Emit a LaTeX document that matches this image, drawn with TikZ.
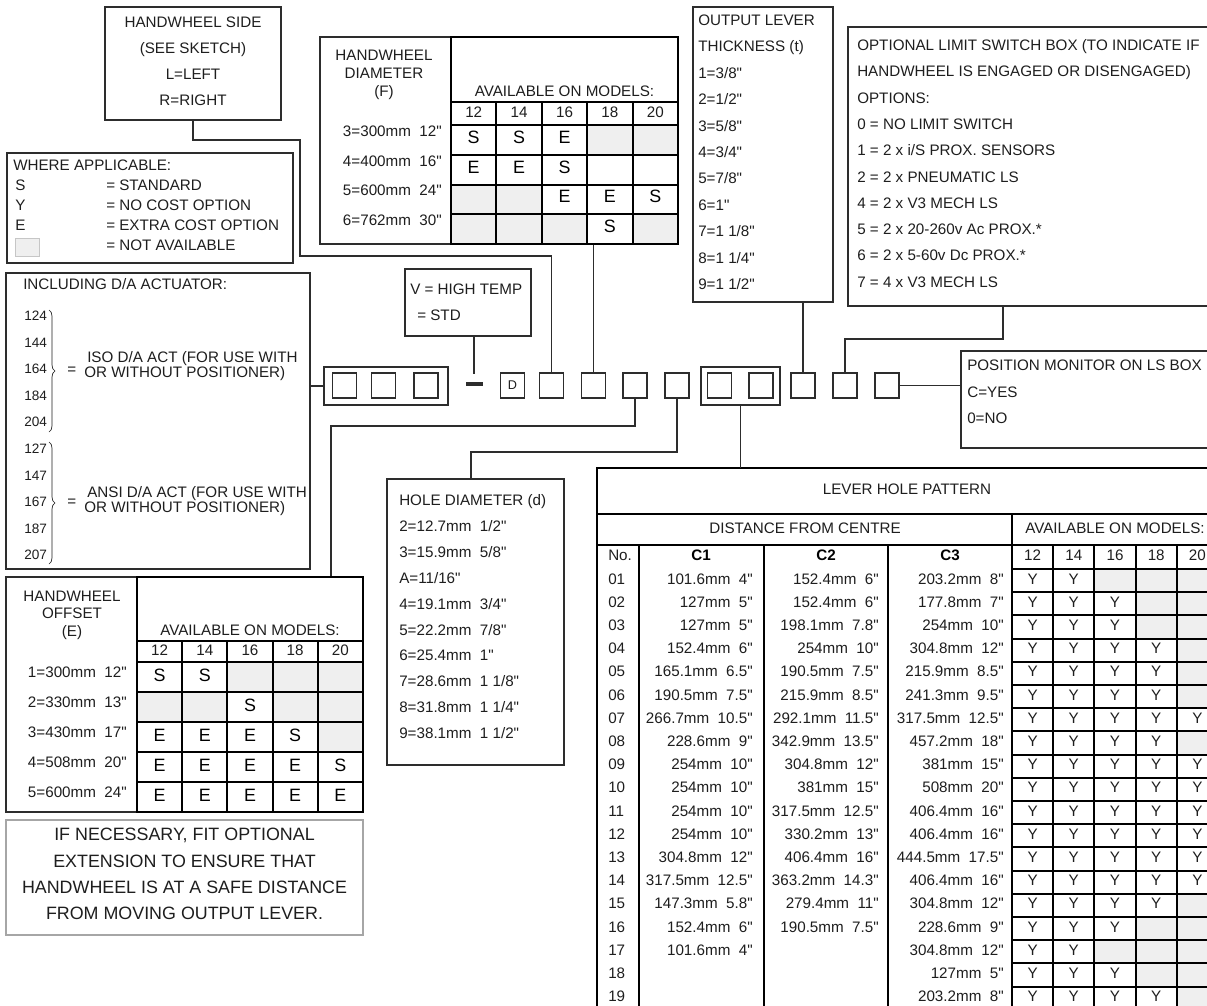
\documentclass[tikz,border=0pt]{standalone}
\usepackage{fontspec}
\setmainfont{Liberation Sans}[Ligatures=TeXOff]
\usetikzlibrary{fit, decorations.pathreplacing}

\definecolor{ink}{RGB}{30,30,30}
\definecolor{rule}{RGB}{45,45,45}
\definecolor{na}{RGB}{239,239,239}

\begin{document}
\begin{tikzpicture}[
    x=0.75pt, y=-0.75pt,
    box/.style={draw=rule, line width=1.1pt, inner sep=0pt},
    lbl/.style={anchor=mid west, inner sep=0pt, text=ink, font=\fontsize{11.4}{13}\selectfont},
    ctr/.style={lbl, anchor=mid},
    rgt/.style={lbl, anchor=mid east},
    num/.style={lbl, font=\fontsize{10.2}{12}\selectfont},
    big/.style={anchor=mid, inner sep=0pt, font=\fontsize{13.4}{15}\selectfont},
    note/.style={anchor=mid, inner sep=0pt, text=ink, font=\fontsize{13.4}{15}\selectfont},
    grid/.style={line width=1.5pt},
    wire/.style={draw=rule, line width=1.2pt},
    code/.style={draw=rule, line width=1.1pt, minimum width=18pt, minimum height=18.75pt, inner sep=0pt},
    brc/.style={decorate, decoration={brace, amplitude=4.5pt}, draw=ink, line width=0.5pt}
]
\useasboundingbox (0,0) rectangle (1207,1006);
\fill[white] (0,0) rectangle (1207,1006);
\clip (0,0) rectangle (1207,1006);

% ============================================================
% HANDWHEEL SIDE + legend (top left)
% ============================================================
\node[box, fit={(105,7) (281,120)}] (hwside) {};
\foreach \t [count=\i] in {HANDWHEEL SIDE, (SEE SKETCH), L=LEFT, R=RIGHT} {
    \node[ctr] (hs\i) at (193, -2+26*\i) {\t};
}

\node[box, fit={(7,153) (293,263)}] (where) {};
\node[lbl] (wa0) at (13,167) {WHERE APPLICABLE:};
\foreach \k/\t [count=\i] in {S/STANDARD, Y/NO COST OPTION, E/EXTRA COST OPTION} {
    \node[lbl] (wk\i) at (15, 167+20*\i) {\k};
    \node[lbl] (wt\i) at (106, 167+20*\i) {= \t};
}
\node[fill=na, draw=gray!45, line width=0.5pt, inner sep=0pt, fit={(15,238) (39,256)}] (wkey) {};
\node[lbl] (wt4) at (106,247) {= NOT AVAILABLE};

% ============================================================
% HANDWHEEL DIAMETER (F)
% ============================================================
\node[box, fit={(320,37) (678,244)}] (hwdia) {};
\foreach \t [count=\i] in {HANDWHEEL, DIAMETER, (F)} {
    \node[ctr] (hd\i) at (384, 39+18*\i) {\t};
}
\node[ctr] (hdav) at (564.5,93) {AVAILABLE ON MODELS:};
\foreach \m [count=\c] in {12,14,16,18,20} {
    \node[ctr] (hdm\c) at (428.3+45.4*\c, 114) {\m};
}
\foreach \t [count=\r] in {3=300mm~~12", 4=400mm~~16", 5=600mm~~24", 6=762mm~~30"} {
    \node[rgt] (hdr\r) at (442, 103+29.75*\r) {\t};
}
% not available
\foreach \r/\c in {1/4,1/5,3/1,3/2,4/1,4/2,4/3,4/5} {
    \fill[na] (405.6+45.4*\c, 95.25+29.75*\r) rectangle ++(45.4,29.75);
}
\foreach \r/\c/\t in {1/1/S,1/2/S,1/3/E,2/1/E,2/2/E,2/3/S,3/3/E,3/4/E,3/5/S,4/4/S} {
    \node[big] (hdc\r\c) at (428.3+45.4*\c, 110.1+29.75*\r) {\t};
}
\draw[grid] (451,37) -- (451,244) -- (678,244) -- (678,37) -- cycle;
\draw[grid] (451,102) -- (678,102);
\foreach \r in {0,...,3} { \draw[grid] (451,125+29.75*\r) -- (678,125+29.75*\r); }
\foreach \c in {1,...,4} { \draw[grid] (451+45.4*\c,102) -- (451+45.4*\c,244); }

% ============================================================
% OUTPUT LEVER + LIMIT SWITCH (top right)
% ============================================================
\node[box, fit={(693,7) (833,302)}] (outlev) {};
\foreach \t [count=\i] in {OUTPUT LEVER, THICKNESS (t), 1=3/8", 2=1/2", 3=5/8", 4=3/4",
                           5=7/8", 6=1", 7=1 1/8", 8=1 1/4", 9=1 1/2"} {
    \node[lbl] (ol\i) at (698, -4.4+26.4*\i) {\t};
}

\node[box, fit={(848,27) (1230,306)}] (lsbox) {};
\foreach \t [count=\i] in {OPTIONAL LIMIT SWITCH BOX (TO INDICATE IF,
                           HANDWHEEL IS ENGAGED OR DISENGAGED), OPTIONS:,
                           0 = NO LIMIT SWITCH, 1 = 2 x i/S PROX. SENSORS,
                           2 = 2 x PNEUMATIC LS, 4 = 2 x V3 MECH LS,
                           5 = 2 x 20-260v Ac PROX.*, 6 = 2 x 5-60v Dc PROX.*,
                           7 = 4 x V3 MECH LS} {
    \node[lbl] (ls\i) at (857, 20.7+26.3*\i) {\t};
}

% ============================================================
% ACTUATOR + code boxes (middle row)
% ============================================================
\node[box, fit={(6,273) (310,569)}] (incl) {};
\node[lbl] (inc0) at (23,286) {INCLUDING D/A ACTUATOR:};
\foreach \t [count=\i] in {124,144,164,184,204,127,147,167,187,207} {
    \node[num] (num\i) at (24, 290.4+26.6*\i) {\t};
}
\draw[brc] (49,310) -- (49,432);
\draw[brc] (49,442) -- (49,564);
\node[lbl] (eq1) at (67,371) {=};
\node[lbl] (eq2) at (67,503) {=};
\node[lbl] (iso1) at (87,359) {ISO D/A ACT (FOR USE WITH};
\node[lbl] (iso2) at (84,374) {OR WITHOUT POSITIONER)};
\node[lbl] (ansi1) at (87,494) {ANSI D/A ACT (FOR USE WITH};
\node[lbl] (ansi2) at (84,509) {OR WITHOUT POSITIONER)};

\node[box, fit={(405,269) (531,336)}] (vtemp) {};
\node[lbl] (vt1) at (410,291) {V = HIGH TEMP};
\node[lbl] (vt2) at (417,317) {= STD};

\node[box, fit={(324,367) (448,405)}] (tri) {};
\node[box, fit={(701,367) (780,405)}] (pair) {};
\foreach \n/\x in {a1/344.5, a2/383.5, a3/426, s1/551.5, s2/593.5, s3/635, s4/677,
                   p1/719.5, p2/761, s5/803, s6/845, s7/887} {
    \node[code] (\n) at (\x,385.5) {};
}
\node[code, text=ink, font=\fontsize{9.5}{11}\selectfont] (dbox) at (512.5,385.5) {D};
\node[fill=rule, minimum width=12.75pt, minimum height=3pt, inner sep=0pt] (dash) at (474.5,383.5) {};

\node[box, fit={(961,351) (1230,448)}] (posmon) {};
\foreach \t [count=\i] in {POSITION MONITOR ON LS BOX, C=YES, 0=NO} {
    \node[lbl] (pm\i) at (967, 340.7+26.5*\i) {\t};
}

% ============================================================
% HANDWHEEL OFFSET (E) + note (bottom left)
% ============================================================
\node[box, fit={(6,577) (363,812)}] (hwoff) {};
\foreach \t [count=\i] in {HANDWHEEL, OFFSET, (E)} {
    \node[ctr] (ho\i) at (72, 580+17.5*\i) {\t};
}
\node[ctr] (hoav) at (250,632) {AVAILABLE ON MODELS:};
\foreach \m [count=\c] in {12,14,16,18,20} {
    \node[ctr] (hom\c) at (114.4+45.2*\c, 652) {\m};
}
\foreach \t [count=\r] in {1=300mm~~12", 2=330mm~~13", 3=430mm~~17", 4=508mm~~20", 5=600mm~~24"} {
    \node[rgt] (hor\r) at (127, 644+30*\r) {\t};
}
\foreach \r/\c in {1/3,1/4,1/5,2/1,2/2,2/4,2/5,3/5} {
    \fill[na] (91.8+45.2*\c, 632+30*\r) rectangle ++(45.2,30);
}
\foreach \r/\c/\t in {1/1/S,1/2/S,2/3/S,3/1/E,3/2/E,3/3/E,3/4/S,4/1/E,4/2/E,4/3/E,4/4/E,4/5/S,
                      5/1/E,5/2/E,5/3/E,5/4/E,5/5/E} {
    \node[big] (hoc\r\c) at (114.4+45.2*\c, 648+30*\r) {\t};
}
\draw[grid] (137,577) -- (137,812) -- (363,812) -- (363,577) -- cycle;
\draw[grid] (137,641) -- (363,641);
\foreach \r in {0,...,4} { \draw[grid] (137,662+30*\r) -- (363,662+30*\r); }
\foreach \c in {1,...,4} { \draw[grid] (137+45.2*\c,641) -- (137+45.2*\c,812); }

\node[box, draw=gray!70, fit={(6,820) (363,935)}] (ifbox) {};
\foreach \t [count=\i] in {{IF NECESSARY, FIT OPTIONAL}, EXTENSION TO ENSURE THAT,
                           HANDWHEEL IS AT A SAFE DISTANCE, FROM MOVING OUTPUT LEVER.} {
    \node[note] (if\i) at (184.5, 811+26.3*\i) {\t};
}

% ============================================================
% HOLE DIAMETER (d)
% ============================================================
\node[box, fit={(387,479) (564,765)}] (hole) {};
\foreach \t [count=\i] in {HOLE DIAMETER (d), 2=12.7mm~~1/2", 3=15.9mm~~5/8", A=11/16",
                           4=19.1mm~~3/4", 5=22.2mm~~7/8", 6=25.4mm~~1", 7=28.6mm~~1 1/8",
                           8=31.8mm~~1 1/4", 9=38.1mm~~1 1/2"} {
    \node[lbl] (hl\i) at (399, 476.1+25.9*\i) {\t};
}

% ============================================================
% LEVER HOLE PATTERN (bottom right)
% ============================================================
\node[inner sep=0pt, fit={(597,468) (1218,1012)}] (lever) {};
\node[ctr] (lhp) at (907,491) {LEVER HOLE PATTERN};
\node[ctr] (dfc) at (805,530) {DISTANCE FROM CENTRE};
\node[ctr] (lav) at (1115,530) {AVAILABLE ON MODELS:};
\node[lbl] (lno) at (608,557) {No.};
\foreach \h/\x in {C1/701, C2/826, C3/950} {
    \node[ctr, text=black, font=\fontsize{11.4}{13}\selectfont\bfseries] (l\h) at (\x,557) {\h};
}
\foreach \m [count=\c] in {12,14,16,18,20} {
    \node[ctr] (lm\c) at (991.4+41.2*\c, 557) {\m};
}
\foreach \no/\ca/\cb/\cc [count=\r] in {
    01/101.6mm~~4"/152.4mm~~6"/203.2mm~~8",
    02/127mm~~5"/152.4mm~~6"/177.8mm~~7",
    03/127mm~~5"/198.1mm~~7.8"/254mm~~10",
    04/152.4mm~~6"/254mm~~10"/304.8mm~~12",
    05/165.1mm~~6.5"/190.5mm~~7.5"/215.9mm~~8.5",
    06/190.5mm~~7.5"/215.9mm~~8.5"/241.3mm~~9.5",
    07/266.7mm~~10.5"/292.1mm~~11.5"/317.5mm~~12.5",
    08/228.6mm~~9"/342.9mm~~13.5"/457.2mm~~18",
    09/254mm~~10"/304.8mm~~12"/381mm~~15",
    10/254mm~~10"/381mm~~15"/508mm~~20",
    11/254mm~~10"/317.5mm~~12.5"/406.4mm~~16",
    12/254mm~~10"/330.2mm~~13"/406.4mm~~16",
    13/304.8mm~~12"/406.4mm~~16"/444.5mm~~17.5",
    14/317.5mm~~12.5"/363.2mm~~14.3"/406.4mm~~16",
    15/147.3mm~~5.8"/279.4mm~~11"/304.8mm~~12",
    16/152.4mm~~6"/190.5mm~~7.5"/228.6mm~~9",
    17/101.6mm~~4"//304.8mm~~12",
    18///127mm~~5",
    19///203.2mm~~8"} {
    \node[lbl] (no\r) at (608, 557.4+23.2*\r) {\no};
    \node[rgt] (ca\r) at (753, 557.4+23.2*\r) {\ca};
    \node[rgt] (cb\r) at (879, 557.4+23.2*\r) {\cb};
    \node[rgt] (cc\r) at (1004, 557.4+23.2*\r) {\cc};
}
% Y up to the count, grey after it
\foreach \cnt [count=\r] in {2,3,3,4,4,4,5,4,5,5,5,5,5,5,4,3,2,3,4} {
    \foreach \c in {1,...,5} {
        \ifnum\c>\cnt
            \fill[na] (970.8+41.2*\c, 545.8+23.2*\r) rectangle ++(41.2,23.2);
        \else
            \node[ctr] (y\r-\c) at (991.4+41.2*\c, 557.4+23.2*\r) {Y};
        \fi
    }
}
\draw[grid] (597,1012) -- (597,468) -- (1218,468);
\draw[grid] (597,514) -- (1218,514);
\draw[grid] (597,545) -- (1218,545);
\foreach \x in {639,764,888} { \draw[grid] (\x,545) -- (\x,1012); }
\draw[grid] (1012,514) -- (1012,1012);
\foreach \c in {1,...,4} { \draw[grid] (1012+41.2*\c,545) -- (1012+41.2*\c,1012); }
\foreach \r in {0,...,19} { \draw[grid] (1012,569+23.2*\r) -- (1218,569+23.2*\r); }

% ============================================================
% Connectors
% ============================================================
\coordinate (hsA) at (300,140);
\coordinate (hsB) at (300,256);
\draw[wire] (hwside.south) |- (hsA) -- (hsB) -| (s1.north);
\draw[wire] (s2.north |- hwdia.south) -- (s2.north);
\coordinate (ofA) at (331,426);
\draw[wire] (s3.south) |- (ofA) -- (ofA |- hwoff.north);
\coordinate (hdA) at (471,452);
\draw[wire] (s4.south) |- (hdA) -- (hdA |- hole.north);
\draw[wire] (pair.south) -- (pair.south |- lever.north);
\draw[wire] (outlev.south -| s5.north) -- (s5.north);
\coordinate (lsA) at (1003,339);
\draw[wire] (lsbox.south -| lsA) -- (lsA) -| (s6.north);
\draw[wire] (s7.east) -- (s7.east -| posmon.west);
\draw[wire] (incl.east |- tri.west) -- (tri.west);
\coordinate (vtA) at (474,374);
\draw[wire] (vtemp.south -| vtA) -- (vtA);

\end{tikzpicture}
\end{document}
